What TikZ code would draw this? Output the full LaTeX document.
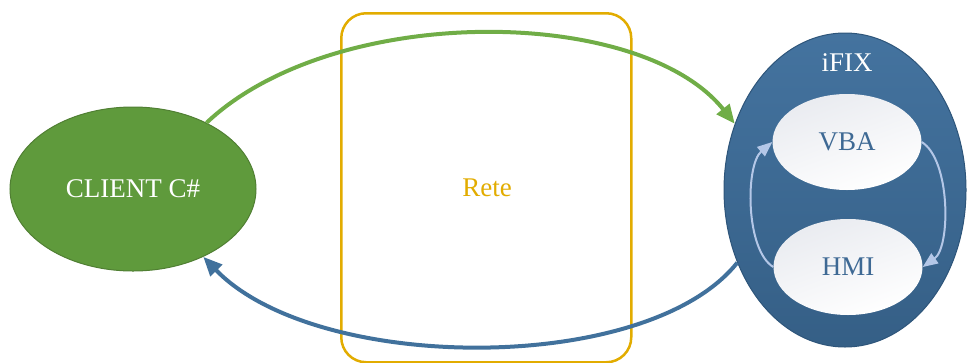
\documentclass[tikz,border=0pt]{standalone}
\usepackage{fontspec}
\setmainfont{Liberation Serif}
\usetikzlibrary{shapes.geometric,arrows.meta}
\definecolor{clientfill}{HTML}{5F9A3C}
\definecolor{clientdraw}{HTML}{507F33}
\definecolor{greenarrow}{HTML}{70AD47}
\definecolor{bluearrow}{HTML}{41719C}
\definecolor{ifixtop}{HTML}{44739F}
\definecolor{ifixbot}{HTML}{355F86}
\definecolor{ifixdraw}{HTML}{2E557A}
\definecolor{gold}{HTML}{E2AC00}
\definecolor{innertext}{HTML}{3E6994}
\definecolor{innerarrow}{HTML}{B4C7E7}
\definecolor{innertop}{HTML}{E9EBF0}
\tikzset{
  bigtext/.style={font=\fontsize{27}{31}\selectfont},
  ellnode/.style={ellipse, inner sep=0pt, bigtext},
  innerell/.style={ellnode, minimum width=149pt, minimum height=96pt,
    top color=innertop, bottom color=white, shading angle=20, text=innertext},
  bigarrow/.style={line width=4pt, -{Triangle[length=19pt,width=16pt]}},
  smallarrow/.style={line width=2pt, draw=innerarrow, -{Triangle[length=15pt,width=12pt]}},
}
\begin{document}
\begin{tikzpicture}[x=1pt,y=-1pt]
\useasboundingbox (0,0) rectangle (968,362);
% Rete box
\node[draw=gold, line width=2.5pt, rounded corners=25pt, minimum width=290pt,
  minimum height=349pt, inner sep=0pt, anchor=north west] (rete) at (340,12) {};
\node[bigtext, text=gold] (retelabel) at (487,188) {Rete};
% Client
\node[ellnode, fill=clientfill, draw=clientdraw, line width=1pt,
  minimum width=246pt, minimum height=164pt, text=white] (client) at (133,189) {CLIENT C\#};
% iFIX
\node[ellnode, top color=ifixtop, bottom color=ifixbot, draw=ifixdraw, line width=1pt,
  minimum width=242pt, minimum height=314pt] (ifix) at (845,190) {};
\node[bigtext, text=white] (ifixlabel) at (847,63) {iFIX};
\node[innerell] (vba) at (847,142) {VBA};
\node[innerell] (hmi) at (848,267) {HMI};
% inner arrows
\draw[smallarrow] (hmi.180) .. controls +(-28,-17) and +(-27,23) .. (vba.180);
\draw[smallarrow] (vba.0) .. controls +(29,18) and +(28,-20) .. (hmi.0);
% big arrows
\draw[bigarrow, draw=greenarrow, -{Triangle[length=19pt,width=16pt,fill=greenarrow]}]
  (client.42) .. controls +(127,-120) and +(-95,-119) .. (ifix.149);
\draw[bigarrow, draw=bluearrow, -{Triangle[length=19pt,width=16pt,fill=bluearrow]}]
  (ifix.214) .. controls +(-90,113) and +(113,117) .. (client.316);
\end{tikzpicture}
\end{document}
